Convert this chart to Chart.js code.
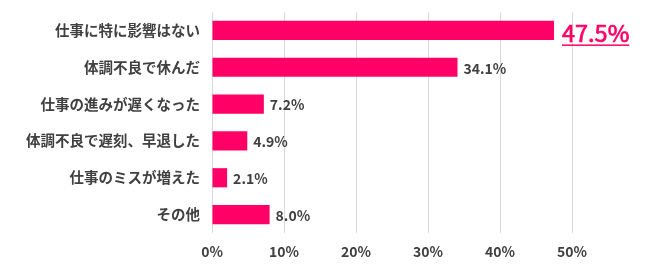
<!DOCTYPE html>
<html><head><meta charset="utf-8">
<script src="https://cdn.jsdelivr.net/npm/chart.js@4/dist/chart.umd.min.js"></script>
<style>html,body{margin:0;padding:0;background:#fff}#wrap{width:650px;height:276px}</style>
</head><body><div id="wrap"><canvas id="c"></canvas></div>
<script>
const categories = ["仕事に特に影響はない","体調不良で休んだ","仕事の進みが遅くなった","体調不良で遅刻、早退した","仕事のミスが増えた","その他"];
const values = [47.5, 34.1, 7.2, 4.9, 2.1, 8.0];
const valueLabels = ["47.5%","34.1%","7.2%","4.9%","2.1%","8.0%"];
const tickValues = [0,10,20,30,40,50];

const FONT = "'Noto Sans CJK JP','Noto Sans',sans-serif";
const labelPlugin = {
  id:'valLabels',
  afterDatasetsDraw(chart){
    const ctx = chart.ctx;
    const meta = chart.getDatasetMeta(0);
    meta.data.forEach((bar,i)=>{
      ctx.save();
      ctx.textBaseline='middle';
      ctx.textAlign='left';
      if(i===0){
        ctx.font = "normal 23.5px " + FONT;
        ctx.fillStyle = '#FF0066';
        ctx.strokeStyle = '#FF0066';
        ctx.lineWidth = 0.7;
        const x = bar.x + 8, y = bar.y + 3;
        ctx.fillText(valueLabels[i], x, y);
        ctx.strokeText(valueLabels[i], x, y);
        const w = ctx.measureText(valueLabels[i]).width;
        ctx.fillRect(x, y + 11, w, 1.5);
      } else {
        ctx.font = "bold 14px " + FONT;
        ctx.fillStyle = '#404040';
        ctx.fillText(valueLabels[i], bar.x + 6, bar.y + 1);
      }
      ctx.restore();
    });
  }
};

new Chart(document.getElementById('c'), {
  type:'bar',
  data:{labels:categories, datasets:[{data:values, backgroundColor:'#FF0066', barPercentage:0.52, categoryPercentage:1}]},
  options:{
    indexAxis:'y', responsive:true, maintainAspectRatio:false, animation:false,
    layout:{padding:{left:0,right:78,top:12,bottom:0}},
    plugins:{legend:{display:false},tooltip:{enabled:false}},
    scales:{
      x:{min:0,max:50,
        afterBuildTicks(s){ s.ticks = tickValues.map(v=>({value:v})); },
        afterFit(s){ s.height = 43; s.paddingLeft = 0; s.paddingRight = 0; },
        grid:{color:'#d9d9d9',drawTicks:false,lineWidth:1},
        border:{display:false},
        ticks:{padding:10,color:'#404040',font:{family:FONT,size:14,weight:'bold'},callback:v=>v+'%'}},
      y:{
        afterFit(s){ s.width = 212; s.paddingTop = 0; s.paddingBottom = 0; },
        grid:{display:false,drawTicks:false},
        border:{display:false},
        ticks:{padding:12,color:'#404040',font:{family:FONT,size:14.5,weight:'bold'}}}
    }
  },
  plugins:[labelPlugin]
});
</script></body></html>
